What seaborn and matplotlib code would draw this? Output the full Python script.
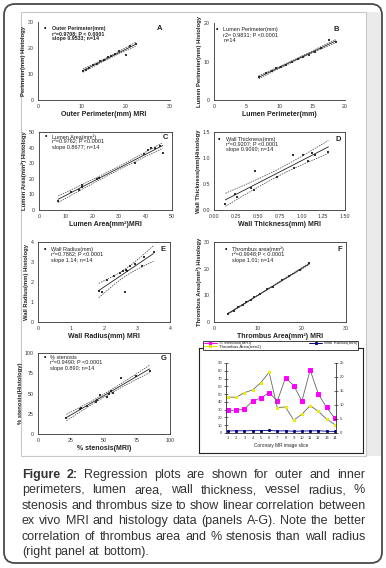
import numpy as np
import pandas as pd
import matplotlib
matplotlib.use('Agg')
import matplotlib.pyplot as plt
import seaborn as sns
from matplotlib.patches import FancyBboxPatch, Rectangle
from matplotlib.lines import Line2D
from matplotlib.ticker import FormatStrFormatter

# ---------------- data ----------------
A_x = [10.2, 10.9, 11.6, 12.4, 13.3, 14.1, 15.0, 15.9, 16.6, 17.4, 18.3, 19.9, 21.0, 22.2]
A_y = [11.0, 11.6, 12.3, 13.4, 14.0, 14.9, 15.5, 16.5, 17.0, 17.6, 18.8, 17.5, 20.8, 21.6]

B_x = [6.8, 8.0, 8.8, 9.5, 10.2, 11.0, 11.9, 12.8, 13.6, 14.5, 15.4, 16.3, 17.5, 18.6]
B_y = [6.0, 6.9, 7.6, 8.3, 8.6, 9.2, 9.8, 10.6, 11.2, 11.8, 12.5, 13.4, 15.6, 15.0]

C_x = [7.2, 12.2, 15.0, 16.0, 16.2, 21.7, 22.5, 36.1, 39.3, 40.8, 42.0, 43.5, 45.5, 46.5]
C_y = [5.8, 11.8, 13.0, 14.5, 15.8, 19.7, 20.6, 30.0, 35.8, 38.6, 39.5, 40.0, 41.0, 36.5]

D_x = [0.13, 0.24, 0.26, 0.42, 0.46, 0.47, 0.72, 0.92, 0.90, 1.02, 1.08, 1.16, 1.12, 1.31]
D_y = [0.11, 0.31, 0.25, 0.42, 0.39, 0.75, 0.63, 0.81, 1.05, 1.05, 0.95, 1.05, 1.10, 1.11]

E_x = [1.84, 1.95, 2.08, 2.30, 2.48, 2.58, 2.63, 2.66, 2.70, 2.80, 2.93, 3.15, 3.20, 3.50]
E_y = [1.57, 1.50, 2.08, 2.28, 2.45, 2.55, 1.52, 2.60, 2.55, 2.78, 2.88, 2.80, 3.25, 3.50]

F_x = [3.2, 4.5, 5.5, 6.5, 7.2, 8.3, 9.0, 10.5, 12.0, 13.5, 15.5, 17.0, 19.5, 21.7]
F_y = [3.0, 4.2, 5.6, 6.5, 7.5, 8.2, 9.2, 10.6, 12.4, 13.2, 15.6, 17.2, 19.4, 22.0]

G_x = [21.5, 31.6, 32.8, 37.0, 44.0, 45.0, 47.0, 52.5, 54.0, 55.5, 56.5, 63.0, 74.5, 84.6]
G_y = [20.0, 30.5, 31.7, 35.0, 40.0, 41.5, 48.0, 46.0, 49.0, 53.0, 51.0, 69.0, 71.0, 78.0]

H_slices = list(range(1, 15))
H_stenosis = [29, 29, 31, 41, 45, 52, 41, 71, 61, 41, 81, 50, 33, 19]
H_thrombus = [12.8, 12.8, 14.4, 15.4, 18.0, 21.7, 9.1, 9.3, 4.6, 6.7, 9.8, 7.7, 5.0, 3.0]
H_wallrad = [2.6, 2.9, 2.7, 3.1, 3.0, 3.3, 2.6, 2.8, 2.3, 2.5, 2.7, 2.9, 2.3, 2.0]
H_labels = ['% stenosis(MRI)', 'Thrombus Area(mm2)', 'Wall Radius(mm)']

caption_lines = [
    "Figure 2: Regression plots are shown for outer and inner",
    "perimeters, lumen area, wall thickness, vessel radius, %",
    "stenosis and thrombus size to show linear correlation between",
    "ex vivo MRI and histology data (panels A-G). Note the better",
    "correlation of thrombus area and % stenosis than wall radius",
    "(right panel at bottom).",
]

# ---------------- setup ----------------
sns.set_theme(style='white')
plt.rcParams['font.family'] = ['Liberation Sans', 'DejaVu Sans']

W, H = 386, 568
fig = plt.figure(figsize=(W / 100, H / 100), dpi=100)
fig.patch.set_facecolor('white')


def ax_px(x0, y0, x1, y1):
    return fig.add_axes([x0 / W, 1 - y1 / H, (x1 - x0) / W, (y1 - y0) / H])


bg = ax_px(0, 0, W, H)
bg.set_xlim(0, W)
bg.set_ylim(H, 0)
bg.axis('off')
bg.add_patch(FancyBboxPatch((4, 4), W - 8, H - 9, boxstyle='round,pad=0,rounding_size=11',
                            fc='white', ec='#4a4a4a', lw=1.3))
bg.add_patch(Rectangle((366, 12), 15, 444, fc='#ebebeb', ec='none'))
bg.add_patch(Rectangle((21, 12), 345, 444, fc='none', ec='#c8c8c8', lw=0.8))

TXT = '#222222'


def reg_panel(rect, x, y, xlim, ylim, xticks, yticks, lines, letter, xlabel, ylabel,
              box=True, xfmt=None, yfmt=None, bold_title=False, tx=0.1, ty=0.92,
              mx=0.04, lx=0.93, ly=0.92, fs=4.0):
    ax = ax_px(*rect)
    ax.patch.set_alpha(0)
    df = pd.DataFrame({'x': x, 'y': y})
    sns.regplot(data=df, x='x', y='y', ax=ax, ci=None, marker='s', color='black',
                scatter_kws={'s': 3.0, 'linewidths': 0},
                line_kws={'lw': 0.6, 'color': '#222222'})
    xa = np.asarray(x, float)
    ya = np.asarray(y, float)
    b1, b0 = np.polyfit(xa, ya, 1)
    n = len(xa)
    res = ya - (b0 + b1 * xa)
    s = np.sqrt(np.sum(res ** 2) / (n - 2))
    xs = np.linspace(xa.min(), xa.max(), 60)
    se = s * np.sqrt(1 / n + (xs - xa.mean()) ** 2 / np.sum((xa - xa.mean()) ** 2))
    yh = b0 + b1 * xs
    for sign in (-1, 1):
        ax.plot(xs, yh + sign * 2.179 * se, ls=(0, (2.5, 1.5)), lw=0.45, color='#333333')
    ax.set_xlim(*xlim)
    ax.set_ylim(*ylim)
    ax.set_xticks(xticks)
    ax.set_yticks(yticks)
    if xfmt:
        ax.xaxis.set_major_formatter(FormatStrFormatter(xfmt))
    if yfmt:
        ax.yaxis.set_major_formatter(FormatStrFormatter(yfmt))
    ax.tick_params(labelsize=3.8, length=2, width=0.5, pad=1, colors='#333333')
    ax.set_xlabel(xlabel, fontsize=5, fontweight='bold', labelpad=1.5, color=TXT)
    ax.set_ylabel(ylabel, fontsize=4.2, fontweight='bold', labelpad=1, color=TXT)
    for sp in ax.spines.values():
        sp.set_linewidth(0.6)
        sp.set_color('#333333')
    if not box:
        ax.spines['top'].set_visible(False)
        ax.spines['right'].set_visible(False)
    ax.text(mx, ty, '\u2022', transform=ax.transAxes, fontsize=5, va='center', ha='left', color='black')
    for i, ln in enumerate(lines):
        ax.text(tx, ty - i * 0.068, ln, transform=ax.transAxes, fontsize=fs, va='center', ha='left',
                color=TXT, fontweight='bold' if bold_title else 'normal')
    ax.text(lx, ly, letter, transform=ax.transAxes, fontsize=5.5, fontweight='bold',
            va='center', ha='center', color=TXT)
    return ax


reg_panel((38, 22, 170, 100), A_x, A_y, (0, 30), (0, 30), [0, 10, 20, 30], [0, 10, 20, 30],
          ['Outer Perimeter(mm)', 'r\u00b2=0.9708; P < 0.0001', 'slope 0.9533; n=14'], 'A',
          'Outer Perimeter(mm) MRI', 'Perimeter(mm) Histology', box=False, bold_title=True,
          tx=0.105, ty=0.92, lx=0.92, fs=3.8)

reg_panel((214, 23, 345, 100), B_x, B_y, (0, 20), (0, 20), [0, 5, 10, 15, 20], [0, 10, 20],
          ['Lumen Perimeter(mm)', 'r2= 0.9831; P <0.0001', 'n=14'], 'B',
          'Lumen Perimeter(mm)', 'Lumen Perimeter(mm) Histology', box=False,
          tx=0.07, ty=0.91, mx=0.01, lx=0.93, ly=0.91)

reg_panel((39, 132, 172, 210), C_x, C_y, (0, 50), (0, 50), [0, 10, 20, 30, 40, 50],
          [0, 10, 20, 30, 40, 50],
          ['Lumen Area(mm\u00b2)', 'r\u00b2=0.9762; P <0.0001', 'slope 0.8677; n=14'], 'C',
          'Lumen Area(mm\u00b2)MRI', 'Lumen Area(mm\u00b2) Histology',
          tx=0.1, ty=0.94, lx=0.95, ly=0.93)

reg_panel((214, 132, 345, 210), D_x, D_y, (0, 1.5), (0, 1.5),
          [0, 0.25, 0.5, 0.75, 1.0, 1.25, 1.5], [0, 0.5, 1.0, 1.5],
          ['Wall Thickness(mm)', 'r\u00b2=0.9207; P <0.0001', 'slope 0.9090; n=14'], 'D',
          'Wall Thickness(mm) MRI', 'Wall Thickness(mm)Histology', xfmt='%.2f', yfmt='%.1f',
          tx=0.09, ty=0.91, mx=0.025, lx=0.95, ly=0.9)

reg_panel((38, 242, 170, 322), E_x, E_y, (0, 4), (0, 4), [0, 1, 2, 3, 4], [0, 1, 2, 3, 4],
          ['Wall Radius(mm)', 'r\u00b2=0.7862; P <0.0001', 'slope 1.14; n=14'], 'E',
          'Wall Radius(mm) MRI', 'Wall Radius(mm) Histology',
          tx=0.1, ty=0.91, lx=0.95, ly=0.91)

reg_panel((214, 242, 346, 322), F_x, F_y, (0, 30), (0, 30), [0, 10, 20, 30], [0, 10, 20, 30],
          ['Thrombus area(mm\u00b2)', 'r\u00b2=0.9948;P < 0.0001', 'slope 1.01; n=14'], 'F',
          'Thrombus Area(mm\u00b2) MRI', 'Thrombus Area(mm\u00b2) Histology',
          tx=0.14, ty=0.91, mx=0.08, lx=0.955, ly=0.91)

reg_panel((38, 353, 170, 434), G_x, G_y, (0, 100), (0, 100), [0, 25, 50, 75, 100],
          [0, 25, 50, 75, 100],
          ['% stenosis', 'r\u00b2=0.9490; P <0.0001', 'slope 0.890; n=14'], 'G',
          '% stenosis(MRI)', '% stenosis(Histology)',
          tx=0.09, ty=0.95, lx=0.95, ly=0.93)

# ---------------- panel H ----------------
frame = ax_px(199, 348, 363, 453)
frame.set_xticks([])
frame.set_yticks([])
frame.set_facecolor('white')
for sp in frame.spines.values():
    sp.set_color('#222222')
    sp.set_linewidth(0.8)
    sp.set_visible(True)

axh = ax_px(226, 363, 336, 433)
axh.patch.set_alpha(0)
sns.lineplot(x=H_slices, y=H_stenosis, ax=axh, color='#666666', lw=0.6, marker='s', ms=2.2,
             mfc='#ff00ff', mec='#ff00ff')
sns.lineplot(x=H_slices, y=H_wallrad, ax=axh, color='#000080', lw=0.6, marker='s', ms=1.3,
             mfc='#000080', mec='#000080')
axh.set_xlim(0.75, 14.15)
axh.set_ylim(0, 90)
axh.set_xticks(H_slices)
axh.set_yticks(range(0, 91, 10))
axh.tick_params(labelsize=3.0, length=3, width=0.5, pad=1, direction='inout', colors='#333333')
axh.set_xlabel('Coronary MR image slice', fontsize=3.4, labelpad=2, color=TXT)
axh.set_ylabel('')
for k in ('top', 'right'):
    axh.spines[k].set_visible(False)
for k in ('left', 'bottom'):
    axh.spines[k].set_linewidth(0.6)
    axh.spines[k].set_color('#333333')

ax2 = axh.twinx()
sns.lineplot(x=H_slices, y=H_thrombus, ax=ax2, color='#666666', lw=0.6, marker='s', ms=1.7,
             mfc='#ffff00', mec='#e8e800')
ax2.set_ylim(0, 25)
ax2.set_yticks(range(0, 26, 5))
ax2.set_ylabel('')
ax2.tick_params(labelsize=3.0, length=3, width=0.5, pad=1, direction='inout', colors='#333333')
for k in ('top', 'left', 'bottom'):
    ax2.spines[k].set_visible(False)
ax2.spines['right'].set_linewidth(0.6)
ax2.spines['right'].set_color('#333333')
ax2.grid(False)
axh.grid(False)

handles = [Line2D([], [], color='#ff00ff', lw=0.7, marker='s', ms=1.8),
           Line2D([], [], color='#e6e600', lw=0.7, marker='s', ms=1.4),
           Line2D([], [], color='#000080', lw=0.7, marker='s', ms=1.2)]
leg = frame.legend(handles, H_labels, ncol=2, loc='upper left',
                   bbox_to_anchor=((203 - 199) / 164, 1 - (351 - 348) / 105, 155 / 164, 0.1),
                   mode='expand', fontsize=3.2, labelspacing=-0.1, borderpad=0.15,
                   handlelength=3.0, handletextpad=0.4, columnspacing=1.0, frameon=True,
                   fancybox=False, edgecolor='#222222', framealpha=1, borderaxespad=0)
leg.get_frame().set_linewidth(0.6)
for t in leg.get_texts():
    t.set_color(TXT)

# ---------------- caption (justified) ----------------
fig.canvas.draw()
rend = fig.canvas.get_renderer()
CFS = 9
CCOL = '#333333'


def width_of(word, weight):
    t = fig.text(0, 0, word, fontsize=CFS, fontweight=weight)
    w = t.get_window_extent(renderer=rend).width
    t.remove()
    return w


X0, X1 = 22, 365
base0 = 478
dy = 15.4
for i, line in enumerate(caption_lines):
    words = line.split(' ')
    weights = ['bold' if (i == 0 and j < 2) else 'normal' for j in range(len(words))]
    widths = [width_of(w, wt) for w, wt in zip(words, weights)]
    last = (i == len(caption_lines) - 1)
    if last:
        gap = width_of('a b', 'normal') - width_of('ab', 'normal')
    else:
        gap = (X1 - X0 - sum(widths)) / (len(words) - 1)
    x = X0
    yb = base0 + i * dy
    for w, wt, wd in zip(words, weights, widths):
        fig.text(x / W, 1 - yb / H, w, fontsize=CFS, fontweight=wt, color=CCOL,
                 ha='left', va='baseline')
        x += wd + gap

fig.savefig('out.png', dpi=100, facecolor='white')
